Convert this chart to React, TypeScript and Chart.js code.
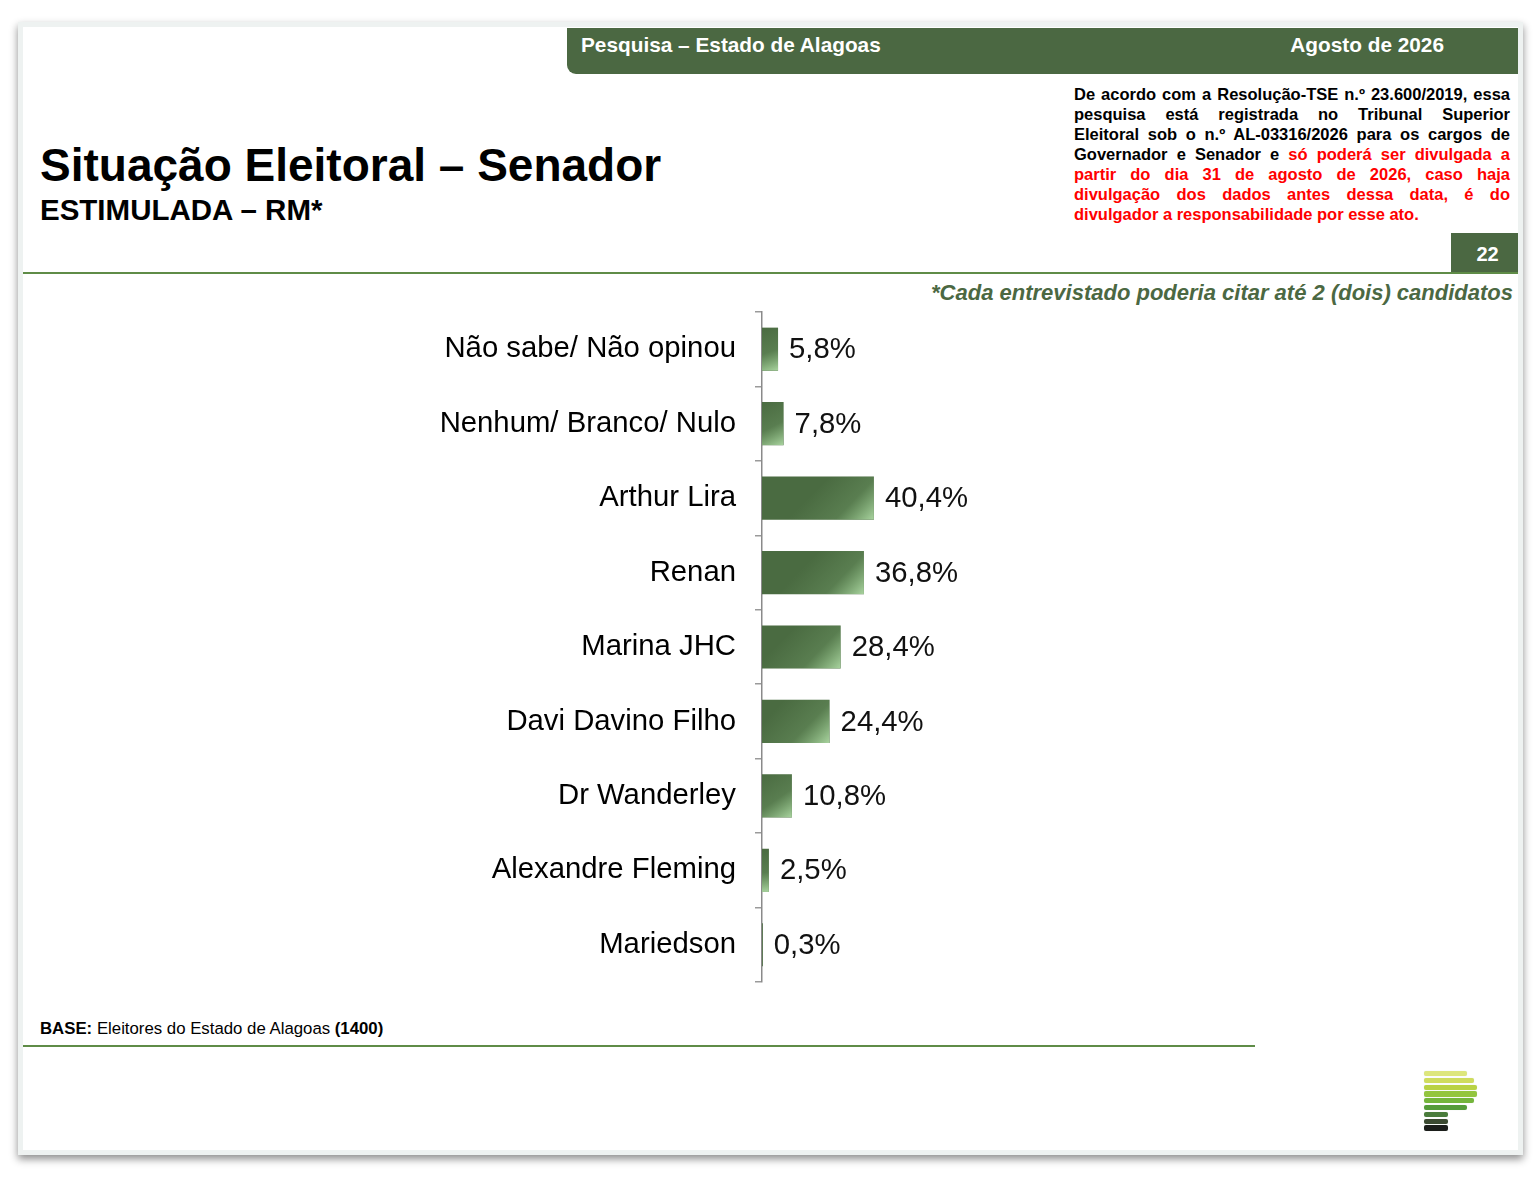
import React, { useEffect, useRef } from "react";
import { Chart, registerables } from "chart.js";

Chart.register(...registerables);

const categories = [
  "Não sabe/ Não opinou",
  "Nenhum/ Branco/ Nulo",
  "Arthur Lira",
  "Renan",
  "Marina JHC",
  "Davi Davino Filho",
  "Dr Wanderley",
  "Alexandre Fleming",
  "Mariedson",
];
const values = [5.8, 7.8, 40.4, 36.8, 28.4, 24.4, 10.8, 2.5, 0.3];

const headerLeft = "Pesquisa – Estado de Alagoas";
const headerRight = "Agosto de 2026";
const title = "Situação Eleitoral – Senador";
const subtitle = "ESTIMULADA – RM*";
const pageNumber = "22";
const footnote = "*Cada entrevistado poderia citar até 2 (dois) candidatos";

const FONT = '"Liberation Sans", Arial, Helvetica, sans-serif';
const GREEN = "#4b6842";
const LINE_GREEN = "#5f8c47";

const fmt = (v: number) => v.toFixed(1).replace(".", ",") + "%";

const barShine = {
  id: "barShine",
  afterDatasetsDraw(chart: any) {
    const ctx = chart.ctx;
    const meta = chart.getDatasetMeta(0);
    meta.data.forEach((el: any, i: number) => {
      const { x, y, base, height } = el.getProps(["x", "y", "base", "height"], true);
      const top = y - height / 2;
      const w = x - base;
      if (w > 1) {
        const span = Math.min(45, w);
        const g = ctx.createLinearGradient(x - span, top, x, top + height);
        g.addColorStop(0, "rgba(150,200,140,0)");
        g.addColorStop(0.55, "rgba(150,200,140,0.2)");
        g.addColorStop(1, "rgba(175,218,165,0.95)");
        ctx.save();
        ctx.beginPath();
        ctx.rect(base, top, w, height);
        ctx.clip();
        ctx.fillStyle = g;
        ctx.fillRect(base, top, w, height);
        ctx.restore();
      }
      ctx.save();
      ctx.font = `29.3px ${FONT}`;
      ctx.fillStyle = "#111";
      ctx.textAlign = "left";
      ctx.textBaseline = "middle";
      ctx.fillText(fmt(values[i]), x + 11, y + 1);
      ctx.restore();
    });
  },
};

function BarChart() {
  const ref = useRef<HTMLCanvasElement>(null);
  useEffect(() => {
    if (!ref.current) return;
    const chart = new Chart(ref.current, {
      type: "bar",
      data: {
        labels: categories,
        datasets: [
          {
            data: values,
            backgroundColor: "#4a6b41",
            borderWidth: 0,
            barPercentage: 0.58,
            categoryPercentage: 1,
          },
        ],
      },
      options: {
        indexAxis: "y",
        responsive: false,
        animation: false,
        layout: { padding: { top: 12, bottom: 18, left: 0, right: 0 } },
        plugins: { legend: { display: false }, tooltip: { enabled: false } },
        scales: {
          x: { display: false, min: 0, max: 100 },
          y: {
            afterFit: (scale: any) => {
              scale.width = 382;
              scale.paddingTop = 0;
              scale.paddingBottom = 0;
            },
            grid: {
              drawOnChartArea: false,
              drawTicks: true,
              tickLength: 7,
              color: "#9a9a9a",
              lineWidth: 1.5,
            },
            border: { display: true, color: "#8a8a8a", width: 1.5 },
            ticks: {
              color: "#000",
              padding: 19,
              font: { family: FONT, size: 29.3 },
              autoSkip: false,
            },
          },
        },
      },
      plugins: [barShine],
    });
    return () => chart.destroy();
  }, []);
  return (
    <canvas
      ref={ref}
      width={659}
      height={700}
      style={{ position: "absolute", left: 380, top: 300, width: 659, height: 700 }}
    />
  );
}

const logoBars = [
  { w: 43, c: "#dde67c" },
  { w: 50, c: "#cfdc5e" },
  { w: 53, c: "#b9d244" },
  { w: 53, c: "#93c53e" },
  { w: 50, c: "#74b53b" },
  { w: 43, c: "#559c39" },
  { w: 24, c: "#4a7c3b" },
  { w: 24, c: "#3b4a31" },
  { w: 24, c: "#1b1d1a" },
];

const redText = "#ff0000";

export default function App() {
  const lineStyle: React.CSSProperties = {
    textAlign: "justify",
    textAlignLast: "justify",
    height: 20,
    lineHeight: "20px",
    whiteSpace: "nowrap",
  };
  return (
    <div
      style={{
        position: "absolute",
        left: 0,
        top: 0,
        width: 1540,
        height: 1180,
        background: "#ffffff",
        fontFamily: FONT,
        overflow: "hidden",
      }}
    >
      {/* slide panel */}
      <div
        style={{
          position: "absolute",
          left: 18,
          top: 22,
          width: 1505,
          height: 1133,
          boxSizing: "border-box",
          background: "#fff",
          border: "5px solid #eef2f1",
          boxShadow: "0 4px 8px rgba(0,0,0,0.45)",
        }}
      />
      {/* header bar */}
      <div
        style={{
          position: "absolute",
          left: 567,
          top: 28,
          width: 951,
          height: 46,
          background: GREEN,
          borderBottomLeftRadius: 9,
        }}
      />
      <div
        style={{
          position: "absolute",
          left: 581,
          top: 33,
          fontSize: 20.8,
          fontWeight: "bold",
          color: "#fff",
          lineHeight: "24px",
          whiteSpace: "nowrap",
        }}
      >
        {headerLeft}
      </div>
      <div
        style={{
          position: "absolute",
          right: 1540 - 1444,
          top: 33,
          fontSize: 20.8,
          fontWeight: "bold",
          color: "#fff",
          lineHeight: "24px",
          whiteSpace: "nowrap",
        }}
      >
        {headerRight}
      </div>

      {/* legal text */}
      <div
        style={{
          position: "absolute",
          left: 1074,
          top: 84,
          width: 436,
          fontSize: 16.5,
          fontWeight: "bold",
          color: "#000",
        }}
      >
        <div style={lineStyle}>De acordo com a Resolução-TSE n.º 23.600/2019, essa</div>
        <div style={lineStyle}>pesquisa está registrada no Tribunal Superior</div>
        <div style={lineStyle}>Eleitoral sob o n.º AL-03316/2026 para os cargos de</div>
        <div style={lineStyle}>
          Governador e Senador e <span style={{ color: redText }}>só poderá ser divulgada a</span>
        </div>
        <div style={{ ...lineStyle, color: redText }}>partir do dia 31 de agosto de 2026, caso haja</div>
        <div style={{ ...lineStyle, color: redText }}>divulgação dos dados antes dessa data, é do</div>
        <div style={{ ...lineStyle, color: redText, textAlign: "left", textAlignLast: "left" }}>
          divulgador a responsabilidade por esse ato.
        </div>
      </div>

      {/* title */}
      <div
        style={{
          position: "absolute",
          left: 40,
          top: 138,
          fontSize: 46,
          fontWeight: "bold",
          color: "#000",
          lineHeight: "54px",
          whiteSpace: "nowrap",
        }}
      >
        {title}
      </div>
      <div
        style={{
          position: "absolute",
          left: 40,
          top: 193,
          fontSize: 29.5,
          fontWeight: "bold",
          color: "#000",
          lineHeight: "34px",
          whiteSpace: "nowrap",
        }}
      >
        {subtitle}
      </div>

      {/* page number */}
      <div
        style={{
          position: "absolute",
          left: 1451,
          top: 233,
          width: 67,
          height: 40,
          background: GREEN,
          color: "#fff",
          fontWeight: "bold",
          fontSize: 20,
          lineHeight: "42px",
          textAlign: "center",
          boxSizing: "border-box",
          paddingLeft: 6,
        }}
      >
        {pageNumber}
      </div>

      {/* top divider */}
      <div
        style={{ position: "absolute", left: 23, top: 272, width: 1495, height: 2, background: LINE_GREEN }}
      />

      {/* footnote */}
      <div
        style={{
          position: "absolute",
          right: 1540 - 1513,
          top: 280,
          fontSize: 22,
          fontWeight: "bold",
          fontStyle: "italic",
          color: GREEN,
          lineHeight: "26px",
          whiteSpace: "nowrap",
        }}
      >
        {footnote}
      </div>

      <BarChart />

      {/* base */}
      <div
        style={{
          position: "absolute",
          left: 40,
          top: 1019,
          fontSize: 16.8,
          color: "#000",
          lineHeight: "20px",
          whiteSpace: "nowrap",
        }}
      >
        <b>BASE:</b> Eleitores do Estado de Alagoas <b>(1400)</b>
      </div>
      <div
        style={{ position: "absolute", left: 23, top: 1045, width: 1232, height: 2, background: LINE_GREEN }}
      />

      {/* logo */}
      {logoBars.map((b, i) => (
        <div
          key={i}
          style={{
            position: "absolute",
            left: 1424,
            top: 1071 + i * 6.8,
            width: b.w,
            height: 5.2,
            background: b.c,
            borderRadius: 2,
            boxShadow: "0 0 1px rgba(200,220,200,0.8)",
          }}
        />
      ))}
    </div>
  );
}
